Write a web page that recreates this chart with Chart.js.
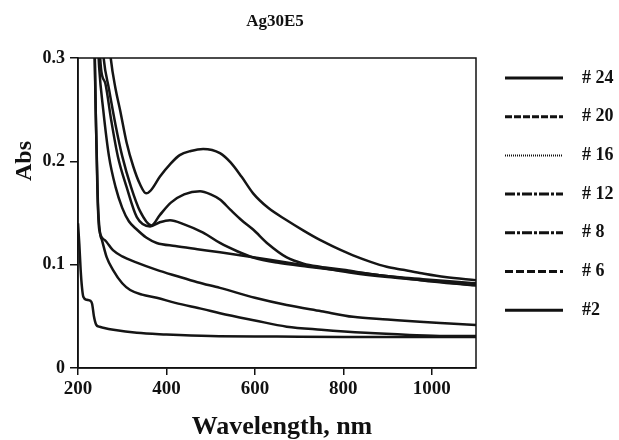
<!DOCTYPE html>
<html>
<head>
<meta charset="utf-8">
<script src="https://cdn.jsdelivr.net/npm/chart.js@4"></script>
<style>
  html, body { margin: 0; padding: 0; background: #fff; }
  #wrap { width: 619px; height: 440px; }
</style>
</head>
<body>
<div id="wrap"><canvas id="absChart" width="619" height="440"></canvas></div>
<script>
// spectra: wavelength (nm) and absorbance
const wl24 = [262, 274, 285, 295, 310, 325, 340, 354, 365, 385, 410, 430, 455, 483, 521, 545, 570, 596, 630, 672, 710, 747, 785, 822, 860, 898, 935, 973, 1030, 1100];
const abs24 = [0.36, 0.30, 0.27, 0.25, 0.218, 0.195, 0.178, 0.169, 0.172, 0.185, 0.198, 0.206, 0.21, 0.212, 0.208, 0.199, 0.185, 0.169, 0.155, 0.143, 0.133, 0.124, 0.116, 0.109, 0.103, 0.098, 0.095, 0.092, 0.088, 0.085];

const wl20 = [248, 258, 270, 285, 300, 320, 340, 366, 385, 410, 440, 476, 500, 521, 545, 570, 596, 630, 672, 710, 747, 800, 860, 920, 980, 1040, 1100];
const abs20 = [0.36, 0.30, 0.27, 0.235, 0.205, 0.175, 0.152, 0.138, 0.148, 0.160, 0.168, 0.171, 0.168, 0.163, 0.153, 0.143, 0.134, 0.120, 0.107, 0.101, 0.098, 0.095, 0.091, 0.088, 0.086, 0.084, 0.082];

const wl16 = [243, 252, 262, 275, 290, 310, 333, 363, 385, 408, 440, 483, 521, 560, 596, 650, 720, 800, 880, 960, 1030, 1100];
const abs16 = [0.36, 0.29, 0.275, 0.24, 0.205, 0.175, 0.146, 0.137, 0.141, 0.143, 0.139, 0.131, 0.121, 0.113, 0.107, 0.102, 0.098, 0.094, 0.090, 0.086, 0.083, 0.080];

const wl12 = [240, 248, 257, 270, 285, 300, 315, 333, 355, 378, 420, 470, 521, 600, 672, 750, 822, 900, 973, 1040, 1100];
const abs12 = [0.36, 0.29, 0.25, 0.205, 0.175, 0.155, 0.142, 0.134, 0.126, 0.121, 0.118, 0.115, 0.112, 0.107, 0.102, 0.097, 0.092, 0.088, 0.085, 0.082, 0.080];

const wl8 = [236, 240, 244, 248, 260, 279, 300, 333, 378, 423, 470, 521, 600, 672, 750, 822, 900, 973, 1040, 1100];
const abs8 = [0.36, 0.25, 0.17, 0.134, 0.124, 0.114, 0.108, 0.102, 0.095, 0.089, 0.083, 0.0775, 0.068, 0.061, 0.055, 0.0495, 0.047, 0.0447, 0.043, 0.0415];

const wl6 = [235, 240, 245, 250, 254, 265, 279, 300, 318, 345, 378, 420, 483, 521, 600, 672, 750, 850, 950, 1030, 1100];
const abs6 = [0.36, 0.25, 0.16, 0.13, 0.124, 0.107, 0.095, 0.082, 0.0755, 0.071, 0.068, 0.063, 0.057, 0.053, 0.046, 0.040, 0.037, 0.034, 0.032, 0.031, 0.031];

const wl2 = [200, 203, 206, 209, 212, 220, 228, 232, 236, 241, 248, 257, 280, 333, 400, 500, 650, 800, 950, 1100];
const abs2 = [0.140, 0.12, 0.095, 0.078, 0.069, 0.066, 0.065, 0.062, 0.050, 0.042, 0.040, 0.039, 0.037, 0.034, 0.0325, 0.031, 0.0305, 0.030, 0.030, 0.030];

const seriesNames = ['# 24', '# 20', '# 16', '# 12', '# 8', '# 6', '#2'];
const seriesWl = [wl24, wl20, wl16, wl12, wl8, wl6, wl2];
const seriesAbs = [abs24, abs20, abs16, abs12, abs8, abs6, abs2];

const xTicks = [200, 400, 600, 800, 1000];
const yTicks = [0, 0.1, 0.2, 0.3];

const legendDash = [[], [7, 2], [1, 1], [10, 2, 3, 2], [10, 2, 3, 2], [8, 3], []];
const legendWidth = [3, 3, 2, 3, 3, 3, 3];

const serif = '"Liberation Serif", "Times New Roman", serif';

const datasets = seriesNames.map((name, i) => ({
    label: name,
    data: seriesWl[i].map((w, j) => ({ x: w, y: seriesAbs[i][j] })),
    borderColor: '#151515',
    borderWidth: 2.5,
    pointRadius: 0,
    fill: false,
    cubicInterpolationMode: 'monotone'
}));

// frame, titles and the hand-drawn legend
const decorPlugin = {
    id: 'decor',
    afterDraw(chart) {
        const ctx = chart.ctx;
        const a = chart.chartArea;
        ctx.save();
        ctx.strokeStyle = '#111';
        ctx.lineWidth = 1.5;
        ctx.strokeRect(a.left, a.top, a.right - a.left, a.bottom - a.top);

        ctx.fillStyle = '#111';
        ctx.textAlign = 'center';
        ctx.textBaseline = 'middle';
        ctx.font = 'bold 17px ' + serif;
        ctx.fillText('Ag30E5', 275, 22);

        ctx.font = 'bold 26px ' + serif;
        ctx.textBaseline = 'alphabetic';
        ctx.fillText('Wavelength, nm', 282, 434);

        ctx.save();
        ctx.translate(25, 161);
        ctx.rotate(-Math.PI / 2);
        ctx.font = 'bold 24px ' + serif;
        ctx.textBaseline = 'middle';
        ctx.fillText('Abs', 0, 0);
        ctx.restore();

        ctx.textAlign = 'left';
        ctx.textBaseline = 'middle';
        ctx.font = 'bold 18px ' + serif;
        seriesNames.forEach((name, i) => {
            const y = 78 + i * 38.7;
            ctx.beginPath();
            ctx.setLineDash(legendDash[i]);
            ctx.lineWidth = legendWidth[i];
            ctx.moveTo(505, y);
            ctx.lineTo(563, y);
            ctx.stroke();
            ctx.setLineDash([]);
            ctx.fillText(name, 582, y);
        });
        ctx.restore();
    }
};

const ctx = document.getElementById('absChart').getContext('2d');

new Chart(ctx, {
    type: 'line',
    data: { datasets: datasets },
    options: {
        responsive: false,
        animation: false,
        events: [],
        layout: { padding: { left: 0, top: 58, right: 143, bottom: 0 } },
        plugins: {
            legend: { display: false },
            tooltip: { enabled: false },
            title: { display: false }
        },
        scales: {
            x: {
                type: 'linear',
                min: 200,
                max: 1100,
                afterFit: (scale) => { scale.height = 72; },
                afterBuildTicks: (scale) => { scale.ticks = xTicks.map(v => ({ value: v })); },
                grid: { drawOnChartArea: false, drawTicks: true, tickLength: 7, color: '#111', lineWidth: 1.5 },
                border: { display: true, color: '#111', width: 1.5 },
                ticks: {
                    color: '#111',
                    padding: 3,
                    maxRotation: 0,
                    font: { family: serif, size: 19, weight: 'bold' },
                    callback: (v) => String(v)
                }
            },
            y: {
                type: 'linear',
                min: 0,
                max: 0.3,
                afterFit: (scale) => { scale.width = 78; },
                afterBuildTicks: (scale) => { scale.ticks = yTicks.map(v => ({ value: v })); },
                grid: { drawOnChartArea: false, drawTicks: true, tickLength: 8, color: '#111', lineWidth: 1.5 },
                border: { display: true, color: '#111', width: 1.5 },
                ticks: {
                    color: '#111',
                    padding: 5,
                    font: { family: serif, size: 18, weight: 'bold' },
                    callback: (v) => String(Math.round(v * 10) / 10)
                }
            }
        }
    },
    plugins: [decorPlugin]
});
</script>
</body>
</html>
